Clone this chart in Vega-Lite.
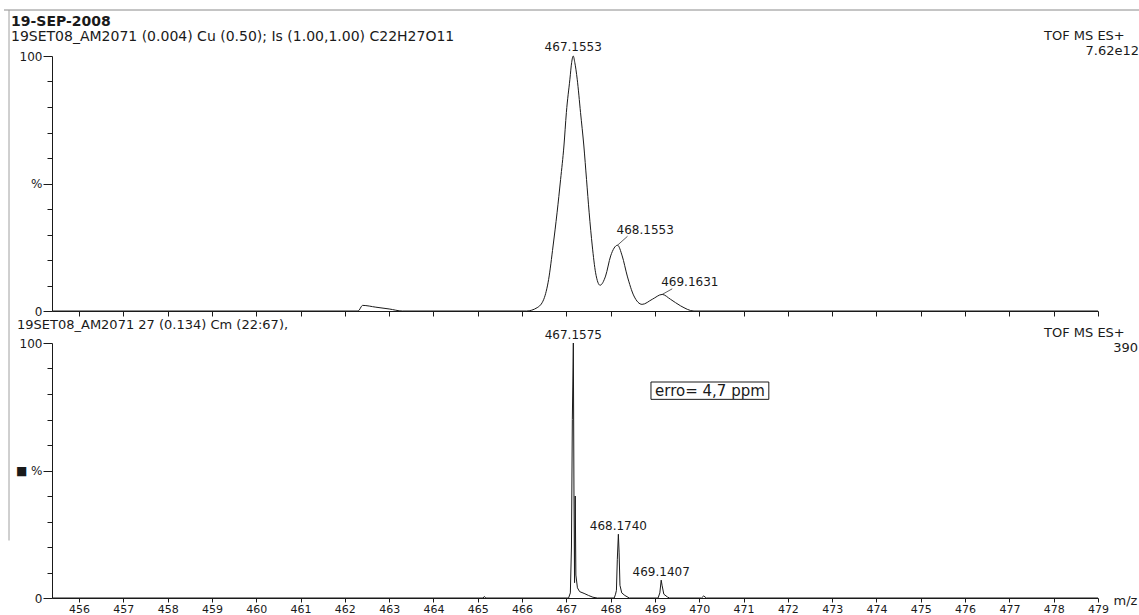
{
  "$schema": "https://vega.github.io/schema/vega-lite/v6.json",
  "background": "white",
  "padding": {"left": 3, "top": 9, "right": 0, "bottom": 0},
  "bounds": "flush",
  "spacing": 32,
  "config": {
    "view": {"stroke": null},
    "font": "DejaVu Sans",
    "axis": {"domainColor": "#1a1a1a", "tickColor": "#1a1a1a", "labelColor": "#1a1a1a", "labelFont": "DejaVu Sans", "labelFontSize": 12, "grid": false, "domainWidth": 1, "tickWidth": 1},
    "text": {"font": "DejaVu Sans", "color": "#1a1a1a"}
  },
  "datasets": {
    "top": [
      {"mz": 455.4, "pct": 0}, {"mz": 462.3, "pct": 0}, {"mz": 462.4, "pct": 2.2}, {"mz": 462.7, "pct": 1.5}, {"mz": 463.0, "pct": 0.8}, {"mz": 463.3, "pct": 0},
      {"mz": 466.1, "pct": 0}, {"mz": 466.34, "pct": 1.3}, {"mz": 466.49, "pct": 4.6}, {"mz": 466.6, "pct": 12.4}, {"mz": 466.7, "pct": 25.5}, {"mz": 466.79, "pct": 38.5}, {"mz": 466.87, "pct": 51.6}, {"mz": 466.945, "pct": 64.7}, {"mz": 467.0, "pct": 77.8}, {"mz": 467.08, "pct": 90.9}, {"mz": 467.12, "pct": 97.5}, {"mz": 467.155, "pct": 100}, {"mz": 467.19, "pct": 97.5}, {"mz": 467.245, "pct": 90.9}, {"mz": 467.32, "pct": 77.8}, {"mz": 467.395, "pct": 64.7}, {"mz": 467.455, "pct": 51.6}, {"mz": 467.515, "pct": 38.5}, {"mz": 467.585, "pct": 25.5}, {"mz": 467.66, "pct": 15}, {"mz": 467.76, "pct": 10.1}, {"mz": 467.885, "pct": 13.7}, {"mz": 468.0, "pct": 21.6}, {"mz": 468.155, "pct": 25.8}, {"mz": 468.26, "pct": 21.6}, {"mz": 468.375, "pct": 13.7}, {"mz": 468.525, "pct": 5.9}, {"mz": 468.71, "pct": 2.6}, {"mz": 468.94, "pct": 4.6}, {"mz": 469.163, "pct": 6.5}, {"mz": 469.35, "pct": 4.6}, {"mz": 469.58, "pct": 2.0}, {"mz": 469.88, "pct": 0}, {"mz": 479.0, "pct": 0}
    ],
    "toplab": [
      {"mz": 467.1553, "pct": 100, "label": "467.1553"},
      {"mz": 468.1553, "pct": 25.8, "label": "468.1553"},
      {"mz": 469.1631, "pct": 6.5, "label": "469.1631"}
    ],
    "lead": [
      {"mz": 468.1553, "pct": 25.8, "mz2": 468.38, "pct2": 29.3},
      {"mz": 469.1631, "pct": 6.5, "mz2": 469.39, "pct2": 8.7}
    ],
    "bot": [
      {"mz": 455.4, "pct": 0}, {"mz": 465.12, "pct": 0}, {"mz": 465.15, "pct": 0.6}, {"mz": 465.18, "pct": 0},
      {"mz": 467.05, "pct": 0}, {"mz": 467.09, "pct": 2}, {"mz": 467.115, "pct": 20}, {"mz": 467.135, "pct": 70}, {"mz": 467.1575, "pct": 100}, {"mz": 467.172, "pct": 40}, {"mz": 467.185, "pct": 6}, {"mz": 467.2, "pct": 40}, {"mz": 467.215, "pct": 9}, {"mz": 467.25, "pct": 4}, {"mz": 467.3, "pct": 2.5}, {"mz": 467.4, "pct": 1.8}, {"mz": 467.5, "pct": 1}, {"mz": 467.6, "pct": 0.3}, {"mz": 467.7, "pct": 0},
      {"mz": 468.08, "pct": 0}, {"mz": 468.11, "pct": 1.5}, {"mz": 468.13, "pct": 3}, {"mz": 468.15, "pct": 15}, {"mz": 468.174, "pct": 25}, {"mz": 468.19, "pct": 18}, {"mz": 468.21, "pct": 5}, {"mz": 468.25, "pct": 2}, {"mz": 468.32, "pct": 1}, {"mz": 468.42, "pct": 0},
      {"mz": 469.07, "pct": 0}, {"mz": 469.11, "pct": 2}, {"mz": 469.1407, "pct": 7}, {"mz": 469.16, "pct": 5}, {"mz": 469.2, "pct": 1.5}, {"mz": 469.28, "pct": 0.4}, {"mz": 469.33, "pct": 0},
      {"mz": 470.05, "pct": 0}, {"mz": 470.1, "pct": 0.8}, {"mz": 470.16, "pct": 0}, {"mz": 479.0, "pct": 0}
    ],
    "botlab": [
      {"mz": 467.1575, "pct": 100, "label": "467.1575"},
      {"mz": 468.174, "pct": 25, "label": "468.1740"},
      {"mz": 469.1407, "pct": 7, "label": "469.1407"}
    ],
    "box": [{"mz": 468.91, "mz2": 471.57, "pct": 77.9, "pct2": 84.7}],
    "boxlab": [{"mz": 470.24, "pct": 81.3, "label": "erro= 4,7 ppm"}],
    "tophdr": [
      {"mz": 455.39, "mz2": 479, "pct": 100, "pct2": -90, "t1": "19-SEP-2008", "t2": "19SET08_AM2071  (0.004) Cu (0.50); Is (1.00,1.00) C22H27O11"}
    ],
    "topright": [{"mz": 479, "pct": 100, "t1": "TOF MS ES+", "t2": "7.62e12"}],
    "bothdr": [{"mz": 455.39, "pct": 100, "t1": "19SET08_AM2071 27 (0.134) Cm (22:67),"}],
    "botright": [{"mz": 479, "pct": 100, "t1": "TOF MS ES+", "t2": "390"}]
  },
  "vconcat": [
    {
      "width": 1046,
      "height": 255,
      "encoding": {
        "x": {"field": "mz", "type": "quantitative", "scale": {"domain": [455.39, 479], "nice": false, "zero": false},
              "axis": {"values": [456,457,458,459,460,461,462,463,464,465,466,467,468,469,470,471,472,473,474,475,476,477,478,479], "labels": false, "tickSize": 5, "title": null}},
        "y": {"field": "pct", "type": "quantitative", "scale": {"domain": [0, 100], "nice": false, "zero": false},
              "axis": {"values": [0,10,20,30,40,50,60,70,80,90,100], "labelExpr": "datum.value == 50 ? '%' : (datum.value == 0 || datum.value == 100 ? datum.label : '')",
                       "tickSize": {"condition": {"test": "datum.value % 50 === 0", "value": 9}, "value": 5}, "labelPadding": 1, "labelOverlap": false, "title": null}}
      },
      "layer": [
        {
          "data": {"name": "top"},
          "mark": {"type": "line", "color": "#1a1a1a", "strokeWidth": 1, "interpolate": "monotone"}
        },
        {
          "data": {"name": "toplab"},
          "transform": [{"filter": "datum.pct == 100"}],
          "mark": {"type": "text", "align": "center", "baseline": "alphabetic", "dy": -5, "fontSize": 12},
          "encoding": {"text": {"field": "label"}}
        },
        {
          "data": {"name": "toplab"},
          "transform": [{"filter": "datum.mz > 468 && datum.mz < 469"}],
          "mark": {"type": "text", "align": "left", "baseline": "alphabetic", "dy": -11, "dx": -1, "fontSize": 12},
          "encoding": {"text": {"field": "label"}}
        },
        {
          "data": {"name": "toplab"},
          "transform": [{"filter": "datum.mz > 469"}],
          "mark": {"type": "text", "align": "left", "baseline": "alphabetic", "dy": -8, "dx": -1, "fontSize": 12},
          "encoding": {"text": {"field": "label"}}
        },
        {
          "data": {"name": "lead"},
          "mark": {"type": "rule", "color": "#333", "strokeWidth": 0.8},
          "encoding": {"x2": {"field": "mz2"}, "y2": {"field": "pct2"}}
        },
        {
          "data": {"name": "tophdr"},
          "mark": {"type": "rule", "color": "#8a8a8a", "strokeWidth": 1, "xOffset": -48, "x2Offset": 44, "yOffset": -46},
          "encoding": {"x2": {"field": "mz2"}}
        },
        {
          "data": {"name": "tophdr"},
          "mark": {"type": "rule", "color": "#a0a0a0", "strokeWidth": 1, "xOffset": -43, "yOffset": -46},
          "encoding": {"y2": {"field": "pct2"}}
        },
        {
          "data": {"name": "tophdr"},
          "mark": {"type": "text", "align": "left", "baseline": "alphabetic", "dx": -41, "dy": -30, "fontSize": 14, "fontWeight": "bold"},
          "encoding": {"text": {"field": "t1"}}
        },
        {
          "data": {"name": "tophdr"},
          "mark": {"type": "text", "align": "left", "baseline": "alphabetic", "dx": -41, "dy": -15, "fontSize": 14},
          "encoding": {"text": {"field": "t2"}}
        },
        {
          "data": {"name": "topright"},
          "mark": {"type": "text", "align": "left", "baseline": "alphabetic", "dx": -54, "dy": -16, "fontSize": 13},
          "encoding": {"text": {"field": "t1"}}
        },
        {
          "data": {"name": "topright"},
          "mark": {"type": "text", "align": "right", "baseline": "alphabetic", "dx": 41, "dy": -1, "fontSize": 13},
          "encoding": {"text": {"field": "t2"}}
        }
      ]
    },
    {
      "width": 1046,
      "height": 255,
      "encoding": {
        "x": {"field": "mz", "type": "quantitative", "scale": {"domain": [455.39, 479], "nice": false, "zero": false},
              "axis": {"values": [456,457,458,459,460,461,462,463,464,465,466,467,468,469,470,471,472,473,474,475,476,477,478,479], "labels": true, "labelFlush": false, "labelOverlap": false, "tickSize": 4, "labelPadding": 1, "labelFontSize": 11,
                       "title": "m/z", "titleX": 1061, "titleY": 6, "titleAlign": "left", "titleBaseline": "alphabetic", "titleAngle": 0, "titleFontWeight": "normal", "titleFontSize": 13, "titleFont": "DejaVu Sans", "titleColor": "#1a1a1a"}},
        "y": {"field": "pct", "type": "quantitative", "scale": {"domain": [0, 100], "nice": false, "zero": false},
              "axis": {"values": [0,10,20,30,40,50,60,70,80,90,100], "labelExpr": "datum.value == 50 ? '■  %' : (datum.value == 0 || datum.value == 100 ? datum.label : '')",
                       "tickSize": {"condition": {"test": "datum.value % 50 === 0", "value": 9}, "value": 5}, "labelPadding": 1, "labelOverlap": false, "title": null}}
      },
      "layer": [
        {
          "data": {"name": "bot"},
          "mark": {"type": "line", "color": "#1a1a1a", "strokeWidth": 1}
        },
        {
          "data": {"name": "botlab"},
          "mark": {"type": "text", "align": "center", "baseline": "alphabetic", "dy": -4, "fontSize": 12},
          "encoding": {"text": {"field": "label"}}
        },
        {
          "data": {"name": "box"},
          "mark": {"type": "rect", "fill": null, "stroke": "#1a1a1a", "strokeWidth": 1},
          "encoding": {"x2": {"field": "mz2"}, "y2": {"field": "pct2"}}
        },
        {
          "data": {"name": "boxlab"},
          "mark": {"type": "text", "align": "center", "baseline": "middle", "fontSize": 15},
          "encoding": {"text": {"field": "label"}}
        },
        {
          "data": {"name": "bothdr"},
          "mark": {"type": "text", "align": "left", "baseline": "alphabetic", "dx": -35, "dy": -14, "fontSize": 13},
          "encoding": {"text": {"field": "t1"}}
        },
        {
          "data": {"name": "botright"},
          "mark": {"type": "text", "align": "left", "baseline": "alphabetic", "dx": -54, "dy": -6, "fontSize": 13},
          "encoding": {"text": {"field": "t1"}}
        },
        {
          "data": {"name": "botright"},
          "mark": {"type": "text", "align": "right", "baseline": "alphabetic", "dx": 40, "dy": 9, "fontSize": 13},
          "encoding": {"text": {"field": "t2"}}
        }
      ]
    }
  ]
}
